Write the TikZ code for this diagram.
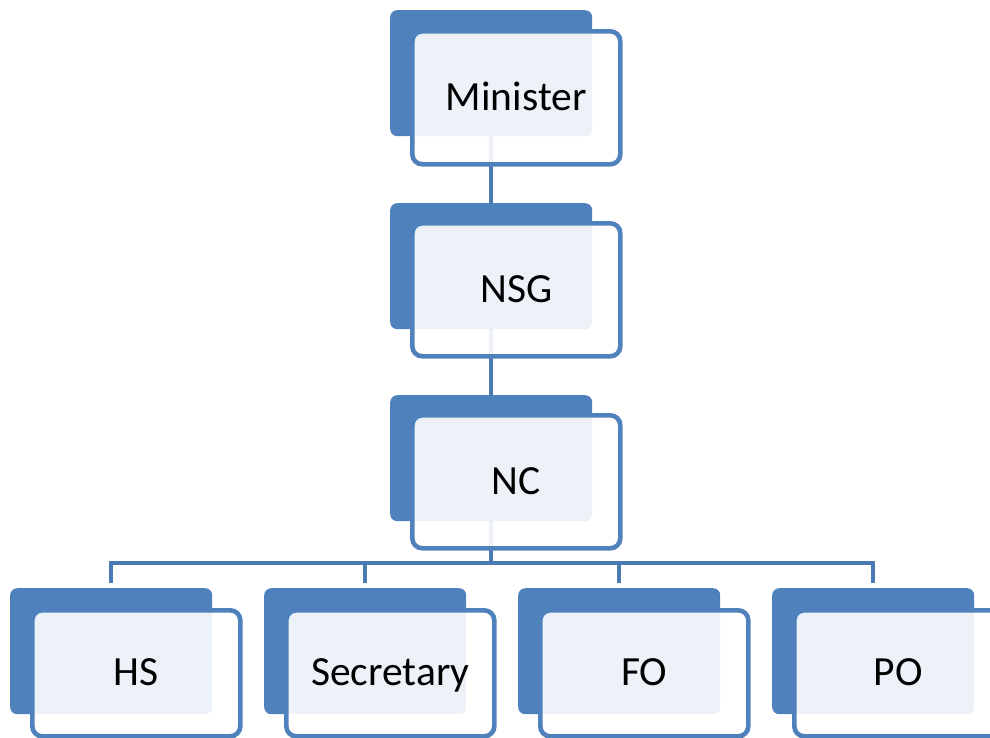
\documentclass[tikz,border=0pt]{standalone}
\usepackage{fontspec}
\setmainfont{Carlito}
\definecolor{boxblue}{HTML}{4F81BD}
\definecolor{lineblue}{HTML}{4A79B4}
\tikzset{
  backbox/.style={fill=boxblue, draw=none, rounded corners=7pt, minimum width=202pt, minimum height=126pt, anchor=north west, inner sep=0pt},
  frontbox/.style={fill=white, fill opacity=0.9, text opacity=1, draw=boxblue, draw opacity=1, line width=4.6pt, rounded corners=10pt, minimum width=208pt, minimum height=133pt, anchor=north west, inner sep=0pt, font=\fontsize{41.5}{45}\selectfont, text height=24.5pt, text depth=0pt},
  frontlow/.style={frontbox, minimum height=126pt},
  conn/.style={draw=lineblue, line width=4.4pt}
}
\begin{document}
\begin{tikzpicture}[x=1pt,y=-1pt]
\useasboundingbox (0,0) rectangle (990,737);
\clip (0,0) rectangle (990,737);
% back boxes
\node[backbox] (minB) at (390,10) {};
\node[backbox] (nsgB) at (390,203) {};
\node[backbox] (ncB) at (390,395) {};
\node[backbox] (hsB) at (10,588) {};
\node[backbox] (secB) at (264,588) {};
\node[backbox] (foB) at (518,588) {};
\node[backbox] (poB) at (772,588) {};
% connectors
\coordinate (bus) at (491,563);
\draw[conn] (minB.south) -- (nsgB.north);
\draw[conn] (nsgB.south) -- (ncB.north);
\draw[conn] (ncB.south) -- (ncB.south |- bus);
\draw[conn, line join=miter, shorten <=5pt, shorten >=5pt] (hsB.north) -- (hsB.north |- bus) -- (poB.north |- bus) -- (poB.north);
\draw[conn, shorten <=5pt] (secB.north) -- (secB.north |- bus);
\draw[conn, shorten <=5pt] (foB.north) -- (foB.north |- bus);
% front boxes
\node[frontbox] (min) at (410,29) {Minister};
\node[frontbox] (nsg) at (410,221) {NSG};
\node[frontbox] (nc) at (410,413) {NC};
\node[frontlow] (hs) at (30,608) {HS};
\node[frontlow] (sec) at (284,608) {Secretary};
\node[frontlow] (fo) at (538,608) {FO};
\node[frontlow] (po) at (792,608) {PO};
\end{tikzpicture}
\end{document}
